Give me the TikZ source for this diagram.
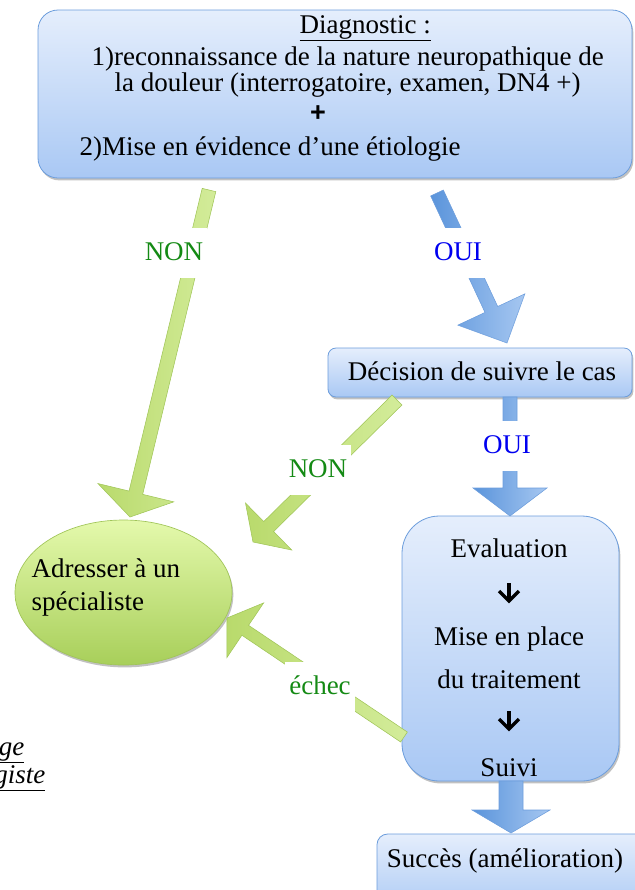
\documentclass[tikz,border=0pt]{standalone}
\usepackage{fontspec}
\setmainfont{Liberation Serif}
\newfontfamily\plusfont{Liberation Sans}
\usetikzlibrary{calc,fit,shapes.geometric,shadows}

\definecolor{boxtop}{HTML}{E5EEFC}
\definecolor{boxbot}{HTML}{A9C8F4}
\definecolor{boxline}{HTML}{6C9DDC}
\definecolor{arrblueA}{HTML}{5A94DB}
\definecolor{arrblueB}{HTML}{A6C7F1}
\definecolor{arrgreenA}{HTML}{B9DA6C}
\definecolor{arrgreenB}{HTML}{D3EC9A}
\definecolor{greenline}{HTML}{A0C558}
\definecolor{elltop}{HTML}{E4F9AC}
\definecolor{ellbot}{HTML}{A8CF5A}
\definecolor{nongreen}{HTML}{148A14}
\definecolor{ouiblue}{HTML}{0000F0}

% fat arrow: style, from, tip, shaft half width, head half width, head length
\newcommand{\fatarrow}[6]{%
  \coordinate (fa-h) at ($(#3)!#6!(#2)$);
  \path[#1] ($(#2)!#4!90:(#3)$) -- ($(fa-h)!#4!90:(#3)$) -- ($(fa-h)!#5!90:(#3)$) -- (#3)
    -- ($(fa-h)!#5!-90:(#3)$) -- ($(fa-h)!#4!-90:(#3)$) -- ($(#2)!#4!-90:(#3)$) -- cycle;
}

\tikzset{
  softshadow/.style={drop shadow={shadow xshift=1pt,shadow yshift=-1.8pt,opacity=0.35,fill=black!70}},
  bluebox/.style={draw=boxline,line width=0.6pt,top color=boxtop,bottom color=boxbot,softshadow,inner sep=0pt},
  greenell/.style={ellipse,draw=greenline,line width=0.5pt,top color=elltop,bottom color=ellbot,softshadow,
    minimum width=162.75pt,minimum height=108.75pt,inner sep=0pt},
  bluearrow/.style={draw=boxline,line width=0.4pt,left color=arrblueA,right color=arrblueB},
  greenarrow/.style={draw=greenline,line width=0.4pt,left color=arrgreenA,right color=arrgreenB},
  lbl/.style={fill=white,inner xsep=3pt,inner ysep=9pt,text height=15pt,text depth=4pt},
  downarr/.style={line width=2.5pt,line join=miter},
}

\begin{document}
\begin{tikzpicture}[x=0.75pt,y=0.75pt,yscale=-1,xscale=1,font=\fontsize{20.25}{24}\selectfont]
\useasboundingbox (0,0) rectangle (635,890);

%Shape: Rounded Rect [diagnostic]
\node[bluebox,rounded corners=15pt,fit={(38,10) (632,178)}] (diag) {};
%Shape: Rounded Rect [decision]
\node[bluebox,rounded corners=6pt,fit={(328,348) (632,397)}] (decis) {};
%Shape: Rounded Rect [evaluation]
\node[bluebox,rounded corners=28pt,fit={(402,516) (619,781)}] (evalbox) {};
%Shape: Rounded Rect [succes]
\node[bluebox,rounded corners=8pt,fit={(377,834) (660,915)}] (succ) {};
%Shape: Ellipse [specialiste]
\node[greenell] (spec) at (123.5,592.5) {};

% arrow ends
\coordinate (non1-s) at (209,190);
\coordinate (non1-t) at (130,517);
\coordinate (oui1-s) at (437,193);
\coordinate (oui1-t) at (507,343);
\coordinate (non2-s) at (397,400);
\coordinate (non2-t) at (253,542);
\coordinate (oui2-s) at (510,397);
\coordinate (oui2-t) at (510,516);
\coordinate (echec-s) at (404,737);
\coordinate (echec-t) at (227,618);
\coordinate (succ-s) at (511,781);
\coordinate (succ-t) at (511,833);

%Fat Arrows
\fatarrow{greenarrow}{non1-s}{non1-t}{5.25pt}{29.25pt}{18.75pt}
\fatarrow{bluearrow}{oui1-s}{oui1-t}{5.25pt}{27.75pt}{27.75pt}
\fatarrow{greenarrow}{non2-s}{non2-t}{5.25pt}{24.75pt}{16.5pt}
\fatarrow{bluearrow}{oui2-s}{oui2-t}{5.25pt}{27.75pt}{21pt}
\fatarrow{greenarrow}{echec-s}{echec-t}{4.5pt}{24.75pt}{16.5pt}
\fatarrow{bluearrow}{succ-s}{succ-t}{9pt}{29.25pt}{17.25pt}

% Text Node
\node[anchor=base west] (diag-t) at (295,33) {\underline{Diagnostic :}};
% Text Node
\node[anchor=base west] (diag-l1) at (87,65) {1)reconnaissance de la nature neuropathique de};
% Text Node
\node[anchor=base west] (diag-l2) at (110,91) {la douleur (interrogatoire, examen, DN4 +)};
% Text Node
\node[font=\fontsize{20.25}{24}\plusfont\bfseries] (diag-plus) at (318,114) {+};
% Text Node
\node[anchor=base west] (diag-l3) at (75,155) {2)Mise en évidence d’une étiologie};

% Text Node
\node[anchor=base] (decis-t) at (482,380) {Décision de suivre le cas};

% Text Node
\node[anchor=base west] (spec-l1) at (27,577) {Adresser à un};
% Text Node
\node[anchor=base west] (spec-l2) at (27,610) {spécialiste};

% Text Node
\node[anchor=base] (eval-t) at (509,557) {Evaluation};
% Text Node
\node[anchor=base] (trait-l1) at (509,645) {Mise en place};
% Text Node
\node[anchor=base] (trait-l2) at (509,688) {du traitement};
% Text Node
\node[anchor=base] (suivi-t) at (509,776) {Suivi};
% Text Node
\node[anchor=base] (succ-t) at (505,867) {Succès (amélioration)};

% small arrows in the box
\coordinate (dn1-s) at (509,583);
\coordinate (dn1-t) at (509,601);
\coordinate (dn2-s) at (509,711);
\coordinate (dn2-t) at (509,729);
\draw[downarr] (dn1-s) -- (dn1-t);
\draw[downarr] ($(dn1-t)+(-10,-10)$) -- (dn1-t) -- ($(dn1-t)+(10,-10)$);
\draw[downarr] (dn2-s) -- (dn2-t);
\draw[downarr] ($(dn2-t)+(-10,-10)$) -- (dn2-t) -- ($(dn2-t)+(10,-10)$);

% Labels
\node[lbl,text=nongreen] (non1-l) at (174,253) {NON};
\node[lbl,text=ouiblue] (oui1-l) at (458,253) {OUI};
\node[lbl,text=nongreen] (non2-l) at (318,470) {NON};
\node[lbl,text=ouiblue] (oui2-l) at (507,446) {OUI};
\node[lbl,text=nongreen] (echec-l) at (320,687) {échec};

% Text Node
\node[anchor=base east,font=\fontsize{20.25}{24}\selectfont\itshape] (frag1) at (29,755) {\underline{rge}};
% Text Node
\node[anchor=base east,font=\fontsize{20.25}{24}\selectfont\itshape] (frag2) at (50,783) {\underline{giste}};

\end{tikzpicture}
\end{document}
